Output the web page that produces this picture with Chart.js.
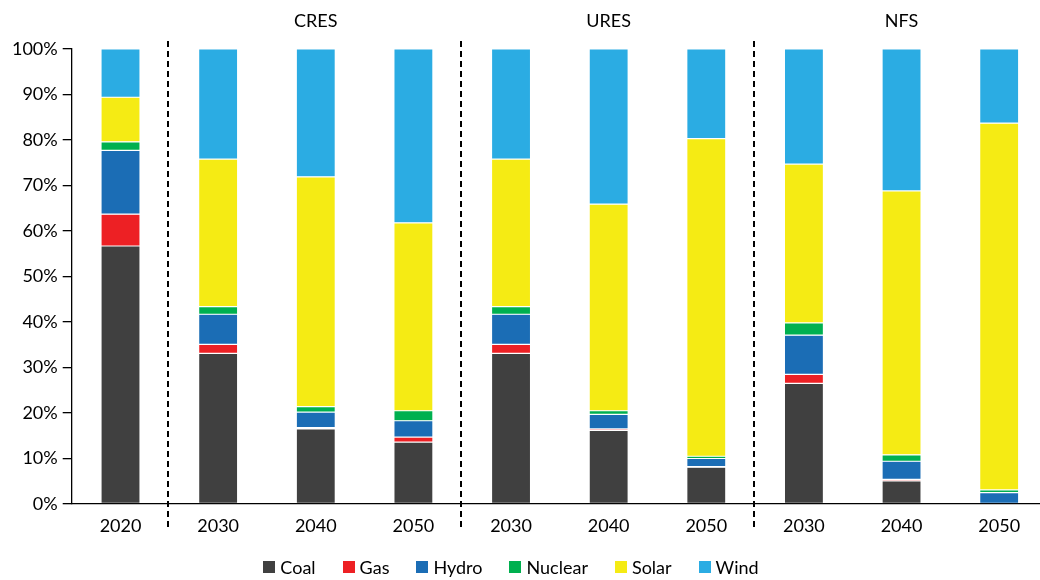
<!DOCTYPE html>
<html>
<head>
<meta charset="utf-8">
<script src="https://cdn.jsdelivr.net/npm/chart.js@4.4.1/dist/chart.umd.min.js"></script>
<style>
  html, body { margin: 0; padding: 0; background: #fff; overflow: hidden; }
  #wrap { width: 1050px; height: 580px; }
</style>
</head>
<body>
<div id="wrap"><canvas id="c" width="1050" height="580"></canvas></div>
<script>
const categories = ["2020", "2030", "2040", "2050", "2030", "2040", "2050", "2030", "2040", "2050"];
const groupNames = ["CRES", "URES", "NFS"];
const groupRanges = [[1, 3], [4, 6], [7, 9]];
const separatorsAfter = [0, 3, 6];

const coal    = [56.7, 33.1, 16.5, 13.6, 33.1, 16.2, 8.1, 26.5, 5.1, 0];
const gas     = [7.0, 2.0, 0.3, 1.1, 2.0, 0.3, 0.1, 2.0, 0.3, 0];
const hydro   = [14.0, 6.6, 3.4, 3.6, 6.6, 3.2, 1.8, 8.6, 4.0, 2.5];
const nuclear = [1.9, 1.7, 1.2, 2.2, 1.7, 0.8, 0.5, 2.7, 1.4, 0.6];
const solar   = [9.8, 32.4, 50.5, 41.3, 32.4, 45.4, 69.8, 34.9, 58.0, 80.6];
const wind    = [10.6, 24.2, 28.1, 38.2, 24.2, 34.1, 19.7, 25.3, 31.2, 16.3];

const yTicks = [0, 10, 20, 30, 40, 50, 60, 70, 80, 90, 100];

const FONT = "Lato, 'Open Sans', sans-serif";

const groupPlugin = {
  id: 'groups',
  afterDatasetsDraw(chart) {
    const ctx = chart.ctx;
    const x = chart.scales.x;
    ctx.save();
    // dashed separators
    ctx.strokeStyle = '#000';
    ctx.lineWidth = 2;
    ctx.setLineDash([6, 4]);
    separatorsAfter.forEach(i => {
      const px = Math.round((x.getPixelForValue(i) + x.getPixelForValue(i + 1)) / 2) - 1;
      ctx.beginPath();
      ctx.moveTo(px, 41);
      ctx.lineTo(px, 530);
      ctx.stroke();
    });
    ctx.setLineDash([]);
    // group titles
    ctx.fillStyle = '#000';
    ctx.font = "18px " + FONT;
    ctx.textAlign = 'center';
    ctx.textBaseline = 'middle';
    groupNames.forEach((g, k) => {
      const [a, b] = groupRanges[k];
      const cx = (x.getPixelForValue(a) + x.getPixelForValue(b)) / 2;
      ctx.fillText(g, cx, 21);
    });

    // legend (from datasets)
    ctx.font = "18px " + FONT;
    ctx.textAlign = 'left';
    const box = 12, gapText = 5, gapItem = 27, cy = 567, centerX = 511;
    const items = chart.data.datasets.map(d => ({ label: d.label, color: d.backgroundColor, w: box + gapText + ctx.measureText(d.label).width }));
    const total = items.reduce((s, it) => s + it.w, 0) + gapItem * (items.length - 1);
    let px = centerX - total / 2;
    items.forEach(it => {
      ctx.fillStyle = it.color;
      ctx.fillRect(Math.round(px), cy - box / 2, box, box);
      ctx.fillStyle = '#000';
      ctx.fillText(it.label, px + box + gapText, cy + 1);
      px += it.w + gapItem;
    });
    ctx.restore();
  }
};

function ds(label, data, color) {
  return {
    label, data,
    backgroundColor: color,
    borderColor: 'rgba(255,255,255,0.35)',
    borderWidth: 0.6,
    borderSkipped: false,
    categoryPercentage: 1.0,
    barPercentage: 0.4
  };
}

new Chart(document.getElementById('c'), {
  type: 'bar',
  data: {
    labels: categories,
    datasets: [
      ds('Coal', coal, '#404040'),
      ds('Gas', gas, '#ED2024'),
      ds('Hydro', hydro, '#1B6DB5'),
      ds('Nuclear', nuclear, '#00B04F'),
      ds('Solar', solar, '#F5EB14'),
      ds('Wind', wind, '#2BACE3')
    ]
  },
  options: {
    responsive: false,
    animation: false,
    devicePixelRatio: 1,
    layout: { padding: { left: 0, right: 2, top: 49, bottom: 44 } },
    plugins: {
      tooltip: { enabled: false },
      legend: { display: false }
    },
    scales: {
      x: {
        stacked: true,
        offset: true,
        grid: { display: false, drawTicks: false },
        border: { display: true, color: '#000', width: 1.3 },
        ticks: { font: { family: FONT, size: 18 }, color: '#000', padding: 11, maxRotation: 0, autoSkip: false },
        afterFit(scale) { scale.height = 32; }
      },
      y: {
        stacked: true,
        min: 0, max: 100,
        afterBuildTicks(scale) { scale.ticks = yTicks.map(v => ({ value: v })); },
        grid: { drawOnChartArea: false, drawTicks: true, tickLength: 9, color: '#000', lineWidth: 1.3 },
        border: { display: true, color: '#000', width: 1.3 },
        ticks: {
          font: { family: FONT, size: 18 }, color: '#000', padding: 5,
          callback: v => v + '%'
        },
        afterFit(scale) { scale.width = 71.7; }
      }
    }
  },
  plugins: [groupPlugin]
});
</script>
</body>
</html>
